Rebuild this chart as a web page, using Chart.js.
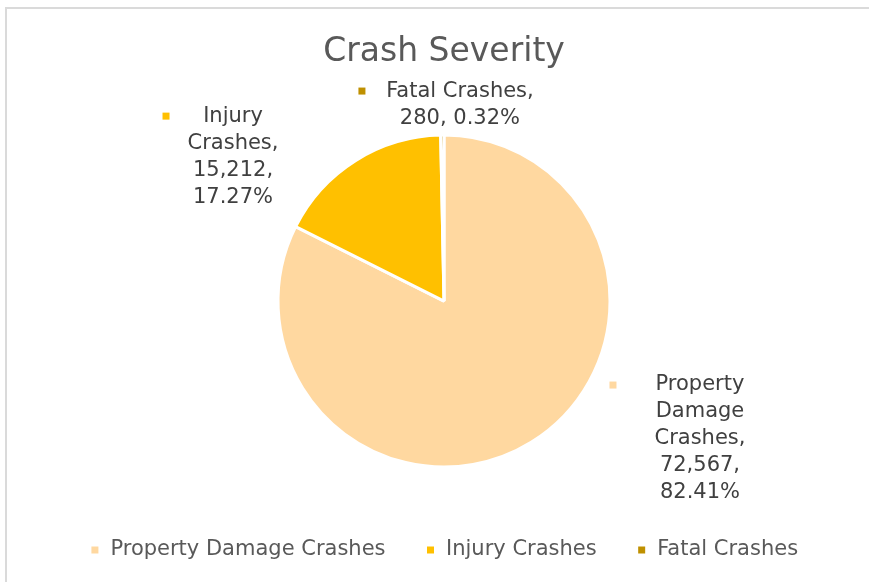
<!DOCTYPE html>
<html>
<head>
<meta charset="utf-8">
<script src="https://cdn.jsdelivr.net/npm/chart.js@4"></script>
<style>
  html, body { margin: 0; padding: 0; background: #ffffff; overflow: hidden; }
  #frame {
    position: absolute; left: 5px; top: 7px; width: 900px; height: 600px;
    border-left: 2px solid #dadada; border-top: 2px solid #dadada;
  }
  #crashChart { position: absolute; left: 0; top: 0; }
</style>
</head>
<body>
<div id="frame"></div>
<canvas id="crashChart" width="869" height="582"></canvas>
<script>
const categories = ["Property Damage Crashes", "Injury Crashes", "Fatal Crashes"];
const crashCounts = [72567, 15212, 280];
const sliceColors = ["#FFD8A0", "#FFC000", "#BF9000"];

// where each data label sits, in units of the pie radius from its centre
// wrap = max text width, key = distance from text centre to the legend key
const labelLayout = [
    { dx: 1.542, dy: 0.506, wrap: 150, key: 87 },
    { dx: -1.271, dy: -1.114, wrap: 130, key: 67 },
    { dx: 0.096, dy: -1.265, wrap: 192, key: 98 }
];

const labelFont = "21px 'DejaVu Sans'";
const lineGap = 27;

function wrapWords(ctx, text, maxWidth) {
    const words = text.split(" ");
    const lines = [];
    let line = "";
    words.forEach(w => {
        const test = line ? line + " " + w : w;
        if (line && ctx.measureText(test).width > maxWidth) {
            lines.push(line);
            line = w;
        } else {
            line = test;
        }
    });
    if (line) lines.push(line);
    return lines;
}

/* --------------------------------------------
   Data labels with a small key, like Excel
---------------------------------------------*/
const sliceLabels = {
    id: "sliceLabels",
    afterDatasetsDraw(chart) {
        const ctx = chart.ctx;
        const meta = chart.getDatasetMeta(0);
        const total = crashCounts.reduce((a, b) => a + b, 0);

        ctx.save();
        ctx.font = labelFont;
        ctx.textAlign = "center";
        ctx.textBaseline = "middle";

        meta.data.forEach((arc, i) => {
            const r = arc.outerRadius;
            const lay = labelLayout[i];
            const cx = arc.x + lay.dx * r;
            const cy = arc.y + lay.dy * r;

            const pct = (crashCounts[i] / total * 100).toFixed(2) + "%";
            const text = categories[i] + ", " + crashCounts[i].toLocaleString("en-US") + ", " + pct;
            const lines = wrapWords(ctx, text, lay.wrap);

            ctx.fillStyle = sliceColors[i];
            ctx.fillRect(cx - lay.key - 3.5, cy - 3.5, 7, 7);

            ctx.fillStyle = "#404040";
            lines.forEach((ln, j) => {
                ctx.fillText(ln, cx, cy + j * lineGap);
            });
        });
        ctx.restore();
    }
};

const chart = new Chart(document.getElementById("crashChart"), {
    type: "pie",
    data: {
        labels: categories,
        datasets: [{
            data: crashCounts,
            backgroundColor: sliceColors,
            borderColor: "#ffffff",
            borderWidth: 3,
            radius: 166
        }]
    },
    options: {
        responsive: false,
        animation: false,
        devicePixelRatio: 1,
        layout: { padding: { left: 19, right: 0, top: 0, bottom: 11.5 } },
        plugins: {
            tooltip: { enabled: false },
            title: {
                display: true,
                text: "Crash Severity",
                color: "#595959",
                font: { family: "'DejaVu Sans'", size: 33, weight: "normal" },
                padding: { top: 33, bottom: 30 }
            },
            legend: {
                position: "bottom",
                labels: {
                    color: "#595959",
                    font: { family: "'DejaVu Sans'", size: 21 },
                    usePointStyle: true,
                    pointStyle: "rect",
                    boxWidth: 10,
                    boxHeight: 10,
                    padding: 40
                }
            }
        }
    },
    plugins: [sliceLabels]
});
</script>
</body>
</html>
